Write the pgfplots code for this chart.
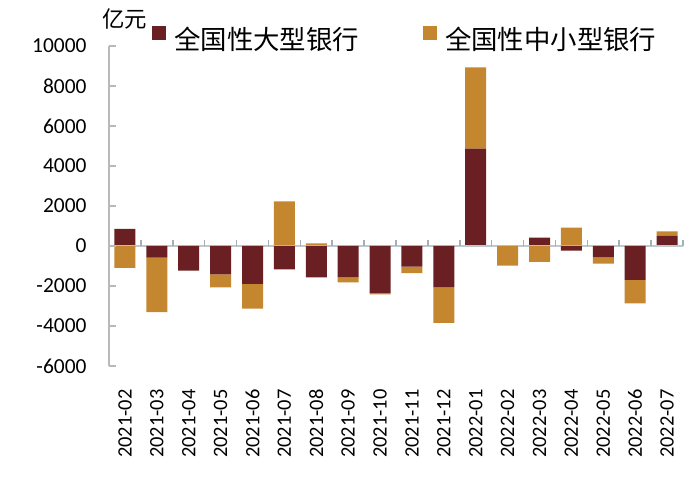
\documentclass[border=0pt]{standalone}
\usepackage{pgfplots}
\pgfplotsset{compat=1.18}
\usepackage{fontspec}
\setmainfont{Carlito}
\newfontfamily\cjk{Noto Sans CJK SC}
\definecolor{darkred}{RGB}{106,32,34}
\definecolor{ochre}{RGB}{196,134,46}
\definecolor{axgray}{RGB}{185,185,185}
\definecolor{zerogray}{RGB}{190,200,206}
\definecolor{tickgray}{RGB}{165,175,180}
\pgfplotsset{common/.style={width=574bp,height=320bp,scale only axis,clip=false,
  xmin=-0.5,xmax=17.5,ymin=-6000,ymax=10000,ybar stacked,bar width=21bp,
  scaled y ticks=false,
  /pgf/number format/assume math mode=true,/pgf/number format/1000 sep={}}}
\begin{document}
\begin{tikzpicture}
\begin{axis}[common,
  axis y line*=left, axis x line*=bottom,
  x axis line style={draw=none}, xtick style={draw=none},
  xtick={0,...,17},
  xticklabels={2021-02,2021-03,2021-04,2021-05,2021-06,2021-07,2021-08,2021-09,2021-10,2021-11,2021-12,2022-01,2022-02,2022-03,2022-04,2022-05,2022-06,2022-07},
  xticklabel style={rotate=90,anchor=east,font=\fontsize{20.5}{24}\selectfont},
  xticklabel shift=20bp,
  ytick={-6000,-4000,...,10000},
  yticklabel style={font=\fontsize{21.5}{25}\selectfont},
  yticklabel shift=19bp,
  y axis line style={axgray,line width=1.2bp,-},
  ytick style={draw=none},
  legend columns=2,
  legend style={draw=none,fill=none,at={(rel axis cs:0.075,1.022)},anchor=west,
    font=\cjk\fontsize{26.5}{30}\selectfont,
    /tikz/every odd column/.append style={column sep=6bp},
    /tikz/every even column/.append style={column sep=62bp},
    /tikz/inner sep=0pt},
  legend image code/.code={\fill[#1] (0bp,-1bp) rectangle (14bp,13bp);},
]
\addplot[fill=darkred,draw=none] coordinates {(0,850) (1,0) (2,0) (3,0) (4,0) (5,0) (6,0) (7,0) (8,0) (9,0) (10,0) (11,4870) (12,0) (13,420) (14,0) (15,0) (16,0) (17,520)};
\addlegendentry{全国性大型银行}
\addplot[fill=ochre,draw=none] coordinates {(0,0) (1,0) (2,0) (3,0) (4,0) (5,2230) (6,130) (7,0) (8,0) (9,0) (10,0) (11,4060) (12,0) (13,0) (14,920) (15,0) (16,0) (17,210)};
\addlegendentry{全国性中小型银行}
\coordinate (bl) at (rel axis cs:0,0);
\coordinate (tr) at (rel axis cs:1,1);
\node[anchor=west,font=\cjk\fontsize{22.5}{26}\selectfont,inner sep=0pt] at (rel axis cs:-0.012,1.085) {亿元};
\end{axis}
\begin{axis}[common,
  axis x line*=middle, axis y line*=left,
  y axis line style={draw=none}, ytick=\empty,
  xtick=\empty,
  x axis line style={zerogray,line width=1.5bp,-},
]
\addplot[fill=darkred,draw=none] coordinates {(0,0) (1,-580) (2,-1230) (3,-1420) (4,-1900) (5,-1170) (6,-1570) (7,-1570) (8,-2350) (9,-1030) (10,-2070) (11,0) (12,0) (13,0) (14,-230) (15,-570) (16,-1700) (17,0)};
\addplot[fill=ochre,draw=none] coordinates {(0,-1100) (1,-2730) (2,0) (3,-650) (4,-1230) (5,0) (6,0) (7,-250) (8,-70) (9,-330) (10,-1770) (11,0) (12,-980) (13,-800) (14,0) (15,-310) (16,-1170) (17,0)};
\end{axis}
% tick marks: zero-line ticks at category boundaries and y-axis ticks pointing inward
\begin{axis}[width=574bp,height=320bp,scale only axis,clip=false,hide axis,
  xmin=-0.5,xmax=17.5,ymin=-6000,ymax=10000]
\addplot[ycomb,tickgray,line width=1.6bp,mark=none] coordinates {(0.5,300) (1.5,300) (2.5,300) (3.5,300) (4.5,300) (5.5,300) (6.5,300) (7.5,300) (8.5,300) (9.5,300) (10.5,300) (11.5,300) (12.5,300) (13.5,300) (14.5,300) (15.5,300) (16.5,300) (17.5,300)};
\end{axis}
\begin{axis}[width=574bp,height=320bp,scale only axis,clip=false,hide axis,
  xmin=0,xmax=574,ymin=-6000,ymax=10000]
\addplot[xcomb,axgray,line width=1.4bp,mark=none] coordinates {(7,-6000) (7,-4000) (7,-2000) (7,0) (7,2000) (7,4000) (7,6000) (7,8000) (7,10000)};
\end{axis}
\pgfresetboundingbox
\path[use as bounding box] ([xshift=-109bp,yshift=-117bp]bl) rectangle ([xshift=17bp,yshift=46bp]tr);
\end{tikzpicture}
\end{document}
